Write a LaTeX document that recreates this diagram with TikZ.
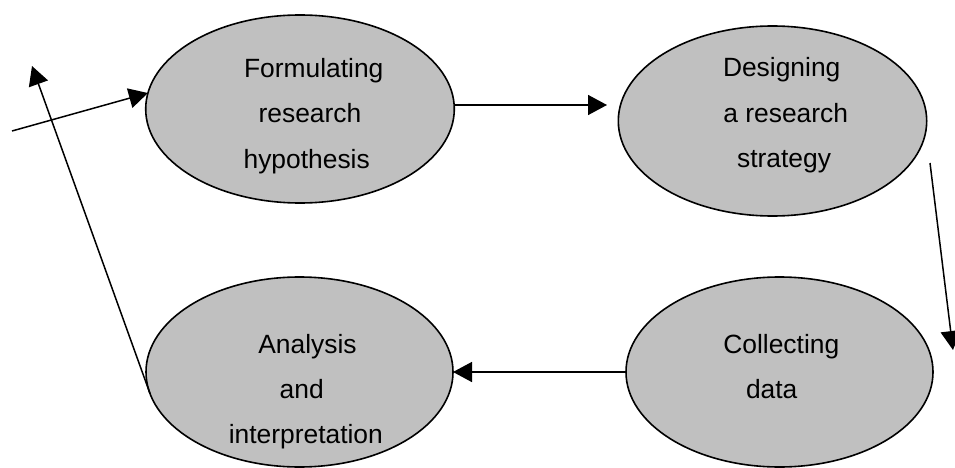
\documentclass[tikz,border=0pt]{standalone}
\usepackage{fontspec}
\setmainfont{Liberation Sans}
\usetikzlibrary{shapes.geometric,arrows.meta}

\definecolor{stagefill}{RGB}{192,192,192}

\tikzset{
  stage/.style={ellipse, draw=black, fill=stagefill, line width=1.6pt,
                inner sep=0pt, outer sep=0pt},
  caption/.style={anchor=base, inner sep=0pt,
                  font=\fontsize{26.4}{30}\selectfont},
  flow/.style={line width=1.5pt,
               -{Triangle[length=19pt,width=20pt]}}
}

\begin{document}
\begin{tikzpicture}[x=1pt,y=-1pt]
  \useasboundingbox (0,0) rectangle (955,468);

  % the four stages of the research cycle
  \node[stage, minimum width=308.6pt, minimum height=188pt] (f) at (300,109) {};
  \node[stage, minimum width=308.4pt, minimum height=190pt] (d) at (772.5,121) {};
  \node[stage, minimum width=307pt,   minimum height=190pt] (c) at (779.5,372) {};
  \node[stage, minimum width=307pt,   minimum height=190pt] (a) at (299.5,372) {};

  % stage captions
  \node[caption] (f1) at (313.7,78)  {Formulating};
  \node[caption] (f2) at (310,123)   {research};
  \node[caption] (f3) at (306.7,168) {hypothesis};

  \node[caption] (d1) at (781.7,77)  {Designing};
  \node[caption] (d2) at (785.7,122) {a research};
  \node[caption] (d3) at (784,167)   {strategy};

  \node[caption] (c1) at (781.3,353) {Collecting};
  \node[caption] (c2) at (771.7,398) {data};

  \node[caption] (a1) at (307.5,353) {Analysis};
  \node[caption] (a2) at (301.7,398) {and};
  \node[caption] (a3) at (305.8,443) {interpretation};

  % free ends of the connectors
  \coordinate (inStart) at (12,131);
  \coordinate (fdTip)   at (607,105);
  \coordinate (dcStart) at (930,163);
  \coordinate (dcTip)   at (953,350);
  \coordinate (backTip) at (32,66);

  % connectors
  \draw[flow] (inStart) -- (f.174);
  \draw[flow] (f.east |- fdTip) -- (fdTip);
  \draw[flow] (dcStart) -- (dcTip);
  \draw[flow] (c.west) -- (a.east);
  \draw[flow] (a.188) -- (backTip);
\end{tikzpicture}
\end{document}
